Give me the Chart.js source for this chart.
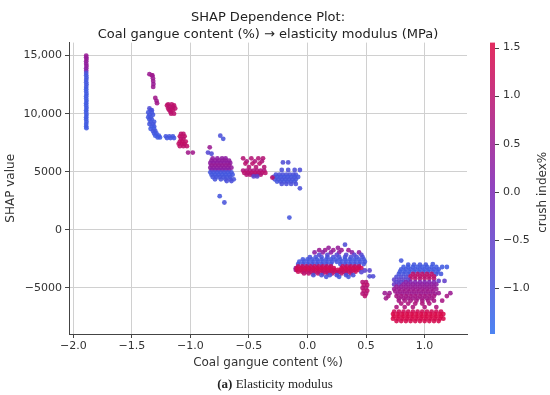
<!DOCTYPE html>
<html>
<head>
<meta charset="utf-8">
<script src="https://cdn.jsdelivr.net/npm/chart.js@4"></script>
<style>
  body { margin: 0; background: #fff; }
  #wrap { position: relative; width: 550px; height: 395px; }
  #caption { position: absolute; left: 0; top: 376px; width: 550px; text-align: center;
             font: 13px "Liberation Serif", "DejaVu Serif", serif; color: #222; }
</style>
</head>
<body>
<div id="wrap">
  <canvas id="shapChart" width="550" height="395"></canvas>
  <div id="caption"><b>(a)</b> Elasticity modulus</div>
</div>
<script>
// tick values / labels
var xTicks = [-2.0, -1.5, -1.0, -0.5, 0.0, 0.5, 1.0];
var yTicks = [-5000, 0, 5000, 10000, 15000];
var yTickLabels = ['\u22125000', '0', '5000', '10,000', '15,000'];
var crushTicks = [-1.0, -0.5, 0.0, 0.5, 1.0, 1.5];
var crushMin = -1.478, crushMax = 1.551;

// rows: [SHAP value, crush index, [coal gangue content values]]
var stripPts = [
  [15000, 0.45, [-1.89]], [14850, 0.45, [-1.89]], [14700, 0.4, [-1.888]], [14500, 0.4, [-1.89]],
  [14300, 0.35, [-1.89]], [14100, 0.35, [-1.888]], [13900, 0.3, [-1.89]], [13700, 0.2, [-1.89]],
  [13500, -0.9, [-1.89]], [13300, -1.0, [-1.89]], [13100, -1.0, [-1.888]], [12900, -1.0, [-1.89]],
  [12700, -1.05, [-1.89]], [12500, -1.05, [-1.888]], [12300, -1.05, [-1.89]], [12100, -1.1, [-1.89]],
  [11900, -1.1, [-1.89]], [11700, -1.1, [-1.888]], [11500, -1.1, [-1.89]], [11300, -1.1, [-1.89]],
  [11100, -1.1, [-1.888]], [10900, -1.1, [-1.89]], [10700, -1.1, [-1.89]], [10500, -1.1, [-1.888]],
  [10300, -1.1, [-1.89]], [10100, -1.1, [-1.89]], [9900, -1.1, [-1.888]], [9700, -1.1, [-1.89]],
  [9500, -1.1, [-1.89]], [9300, -1.1, [-1.888]], [9100, -1.1, [-1.89]], [8900, -1.1, [-1.89]],
  [8750, -1.1, [-1.888]]
];

var upperPts = [
  [13400, 0.5, [-1.35]], [13300, 0.55, [-1.33, -1.325]], [13050, 0.5, [-1.32]],
  [12800, 0.5, [-1.318]], [12550, 0.45, [-1.316]], [12300, 0.5, [-1.318]],
  [11350, 0.6, [-1.30]], [11100, 0.55, [-1.29]], [10900, 0.6, [-1.285]],
  [10800, 1.0, [-1.19, -1.16]], [10700, 1.05, [-1.20, -1.14]], [10600, 1.0, [-1.18, -1.15]],
  [10450, 1.0, [-1.19, -1.16, -1.13]], [10300, 1.05, [-1.18, -1.15]], [10150, 1.0, [-1.17]],
  [10000, 1.0, [-1.165, -1.14]],
  [10450, -0.8, [-1.35]], [10300, -0.9, [-1.34, -1.33]], [10100, -1.0, [-1.36, -1.33]],
  [9900, -1.0, [-1.35, -1.32]], [9700, -1.05, [-1.36, -1.34]], [9500, -1.0, [-1.35, -1.33]],
  [9300, -1.05, [-1.34, -1.31]], [9100, -1.0, [-1.35, -1.32]], [8900, -1.05, [-1.33, -1.31]],
  [8700, -1.1, [-1.34, -1.31]], [8500, -1.0, [-1.32, -1.30]], [8300, -1.05, [-1.31, -1.29]],
  [8100, -1.1, [-1.30, -1.27]], [7950, -1.1, [-1.28, -1.26]],
  [8050, -1.0, [-1.21, -1.18, -1.15]], [7900, -1.05, [-1.20, -1.17, -1.14]],
  [8250, 1.0, [-1.08, -1.06]], [8050, 1.05, [-1.09, -1.05]], [7850, 1.0, [-1.08, -1.06]],
  [7600, 1.1, [-1.09, -1.07, -1.04]], [7400, 1.1, [-1.10, -1.07, -1.05]],
  [7200, 1.05, [-1.09, -1.06, -1.03]], [6650, 0.6, [-1.02, -0.98]]
];

var midPts = [
  [8100, -0.9, [-0.745]], [7830, -0.95, [-0.72]], [7100, 0.5, [-0.835]],
  [6650, -0.7, [-0.85]], [6550, -0.8, [-0.82]],
  [6150, 0.3, [-0.81, -0.77, -0.73, -0.70]],
  [5950, 0.35, [-0.82, -0.79, -0.76, -0.73, -0.70, -0.67]],
  [5750, 0.3, [-0.83, -0.80, -0.77, -0.74, -0.71, -0.68, -0.66]],
  [5550, 0.45, [-0.82, -0.79, -0.76, -0.73, -0.70, -0.67]],
  [5350, 0.35, [-0.83, -0.80, -0.77, -0.74, -0.71, -0.68, -0.65]],
  [5150, 0.2, [-0.82, -0.79, -0.76, -0.73, -0.70, -0.67]],
  [4950, -1.0, [-0.83, -0.80, -0.77, -0.74, -0.71, -0.68, -0.65]],
  [4750, -1.05, [-0.82, -0.79, -0.76, -0.73, -0.70, -0.67, -0.64]],
  [4550, -1.0, [-0.81, -0.78, -0.75, -0.72, -0.69, -0.66]],
  [4350, -0.95, [-0.79, -0.74, -0.70, -0.66, -0.63]],
  [4200, -0.9, [-0.69, -0.65]],
  [2900, -1.0, [-0.75]], [2350, -0.95, [-0.71]],
  [6150, 0.9, [-0.55, -0.48, -0.42, -0.38]],
  [5900, 0.8, [-0.52, -0.45, -0.39]],
  [5700, 1.0, [-0.53, -0.47, -0.41]],
  [5400, 0.9, [-0.50, -0.44, -0.37]],
  [5100, 0.8, [-0.55, -0.52, -0.49, -0.46, -0.43, -0.40, -0.37]],
  [4900, 1.0, [-0.54, -0.51, -0.48, -0.45, -0.42, -0.39, -0.36]],
  [4750, 0.9, [-0.52, -0.49, -0.46, -0.43, -0.40]],
  [4600, -0.6, [-0.46, -0.43]],
  [5800, -0.8, [-0.21, -0.165]],
  [5150, -0.85, [-0.22, -0.165, -0.11, -0.065]],
  [4750, -0.9, [-0.27, -0.24, -0.21, -0.18, -0.15, -0.12, -0.10]],
  [4550, -1.0, [-0.29, -0.26, -0.23, -0.20, -0.17, -0.14, -0.11, -0.08]],
  [4350, -0.95, [-0.28, -0.25, -0.22, -0.19, -0.16, -0.13, -0.10]],
  [4150, -1.0, [-0.26, -0.23, -0.20, -0.17, -0.14, -0.11]],
  [3950, -0.9, [-0.22, -0.18, -0.14, -0.10]],
  [4500, 1.0, [-0.30]], [3570, -0.9, [-0.065]], [1050, -1.0, [-0.155]]
];

var lowPts = [
  [-1280, -0.8, [0.32]],
  [-1550, 0.4, [0.18, 0.26]],
  [-1750, 0.5, [0.10, 0.15, 0.22, 0.29, 0.35]],
  [-1950, 0.3, [0.06, 0.13, 0.20, 0.27, 0.38, 0.44]],
  [-2150, -0.7, [0.10, 0.17, 0.25, 0.33, 0.40, 0.46]],
  [-2350, -0.9, [0.02, 0.07, 0.12, 0.17, 0.22, 0.27, 0.32, 0.37, 0.42, 0.47]],
  [-2550, -1.0, [-0.04, 0.0, 0.04, 0.08, 0.12, 0.16, 0.20, 0.24, 0.28, 0.32, 0.36, 0.40, 0.44, 0.48]],
  [-2750, -1.05, [-0.07, -0.03, 0.01, 0.05, 0.09, 0.13, 0.17, 0.21, 0.25, 0.29, 0.33, 0.37, 0.41, 0.45, 0.49]],
  [-2950, -0.95, [-0.08, -0.04, 0.0, 0.04, 0.08, 0.12, 0.16, 0.20, 0.28, 0.32, 0.36, 0.40, 0.44, 0.48]],
  [-3300, 0.4, [-0.10]], [-3450, 0.5, [-0.10]],
  [-3150, 1.15, [-0.08, -0.045, -0.01, 0.025, 0.06, 0.095, 0.13, 0.165, 0.20, 0.30, 0.335, 0.37, 0.405, 0.44]],
  [-3300, 1.3, [-0.09, -0.055, -0.02, 0.015, 0.05, 0.085, 0.12, 0.155, 0.19, 0.225, 0.29, 0.325, 0.36, 0.395, 0.43, 0.46]],
  [-3450, 1.35, [-0.09, -0.055, -0.02, 0.015, 0.05, 0.085, 0.12, 0.155, 0.19, 0.225, 0.26, 0.295, 0.33, 0.365, 0.40, 0.435]],
  [-3600, 1.25, [-0.08, -0.045, -0.01, 0.025, 0.06, 0.095, 0.13, 0.165, 0.20, 0.235, 0.27, 0.305, 0.34, 0.375, 0.41]],
  [-3750, 1.0, [-0.03, 0.01, 0.05, 0.09, 0.13, 0.17, 0.21, 0.25, 0.29, 0.33, 0.37]],
  [-3900, -0.9, [0.05, 0.12, 0.19, 0.25, 0.33, 0.39]],
  [-4050, -1.0, [0.16, 0.27, 0.35]],
  [-3500, -0.6, [0.49, 0.53]], [-3650, -0.7, [0.46]], [-4000, -0.8, [0.53, 0.56]],
  [-4500, 0.9, [0.47, 0.50]], [-4750, 1.0, [0.48, 0.51]], [-5000, 0.9, [0.47, 0.50]],
  [-5250, 1.0, [0.48, 0.51]], [-5500, 0.9, [0.47, 0.50]], [-5700, 1.0, [0.49]]
];

var rightPts = [
  [-2650, -1.0, [0.80]], [-2950, -1.05, [1.07]],
  [-3000, -1.0, [0.86, 0.91, 0.96, 1.01]],
  [-3200, -1.1, [0.82, 0.86, 0.90, 0.94, 0.98, 1.02, 1.06, 1.10, 1.15, 1.19]],
  [-3400, -1.05, [0.80, 0.84, 0.88, 0.92, 0.96, 1.00, 1.04, 1.08, 1.12]],
  [-3600, -1.1, [0.79, 0.83, 0.87, 0.91, 0.95, 0.99, 1.03, 1.07, 1.11]],
  [-3800, -1.0, [0.78, 0.82, 0.86, 1.10, 1.14]],
  [-3800, 1.0, [0.90, 0.94, 0.98, 1.02, 1.06]],
  [-4000, 1.05, [0.88, 0.92, 0.96, 1.00, 1.04, 1.08]],
  [-4200, 0.95, [0.88, 0.92, 0.96, 1.00, 1.04, 1.08]],
  [-4050, -0.8, [0.76, 0.80, 0.84]],
  [-4300, -0.6, [0.74, 0.78, 0.82, 0.86]],
  [-4400, -0.5, [1.12, 1.17]],
  [-4500, -0.6, [0.76, 0.80]],
  [-4500, 0.1, [0.84, 0.88, 0.92, 0.96, 1.00, 1.04, 1.08]],
  [-4700, -0.4, [0.74, 0.78]],
  [-4700, 0.3, [0.82, 0.86, 0.90, 0.94, 0.98, 1.02, 1.06, 1.10]],
  [-4900, 0.4, [0.76, 0.80, 0.84, 0.88, 0.92, 0.96, 1.00, 1.04, 1.08]],
  [-5100, 0.5, [0.74, 0.78, 0.82, 0.86, 0.90, 0.94, 0.98, 1.02, 1.06, 1.10]],
  [-5300, 0.6, [0.75, 0.79, 0.83, 0.87, 0.91, 0.95, 0.99, 1.03, 1.07]],
  [-5450, 0.5, [0.66, 0.70, 1.12, 1.22]],
  [-5500, 0.5, [0.77, 0.81, 0.85, 0.89, 0.93, 0.97, 1.01, 1.05, 1.09]],
  [-5700, 0.7, [0.69, 0.76, 0.80, 0.84, 0.88, 0.92, 0.96, 1.00, 1.04, 1.08, 1.19]],
  [-5900, 0.6, [0.67, 0.78, 0.82, 0.86, 0.90, 0.94, 0.98, 1.02, 1.06]],
  [-6100, 0.7, [0.78, 0.83, 0.88, 0.93, 0.98, 1.03, 1.08, 1.15]],
  [-6350, 0.8, [0.80, 0.86, 0.92, 0.98, 1.04]],
  [-6650, 0.8, [0.76, 0.83, 0.90, 1.00, 1.10]],
  [-7050, 1.3, [0.74, 0.78, 0.82, 0.86, 0.90, 0.94, 0.98, 1.02, 1.06, 1.10, 1.14]],
  [-7250, 1.45, [0.73, 0.77, 0.81, 0.85, 0.89, 0.93, 0.97, 1.01, 1.05, 1.09, 1.13, 1.16]],
  [-7450, 1.5, [0.74, 0.78, 0.82, 0.86, 0.90, 0.94, 0.98, 1.02, 1.06, 1.10, 1.14]],
  [-7650, 1.45, [0.73, 0.77, 0.81, 0.85, 0.89, 0.93, 0.97, 1.01, 1.05, 1.09, 1.13, 1.16]],
  [-7850, 1.4, [0.76, 0.80, 0.84, 0.88, 0.92, 0.96, 1.00, 1.04, 1.08, 1.12]]
];

// blue -> purple -> red, like the shap colour map
var cmapStops = [[45, 110, 240], [125, 35, 180], [222, 8, 68]];

function crushColor(v, alpha) {
  var t = (v - crushMin) / (crushMax - crushMin);
  t = Math.max(0, Math.min(1, t));
  var a, b, f;
  if (t < 0.5) { a = cmapStops[0]; b = cmapStops[1]; f = t / 0.5; }
  else { a = cmapStops[1]; b = cmapStops[2]; f = (t - 0.5) / 0.5; }
  var rgb = [0, 1, 2].map(function(i) { return Math.round(a[i] + (b[i] - a[i]) * f); });
  return 'rgba(' + rgb.join(',') + ',' + alpha + ')';
}

function fmtTick(v) {
  return v < 0 ? '\u2212' + Math.abs(v).toFixed(1) : v.toFixed(1);
}

var points = [], colors = [];
[stripPts, upperPts, midPts, lowPts, rightPts].forEach(function(rows) {
  rows.forEach(function(r) {
    r[2].forEach(function(x) {
      points.push({x: x, y: r[0]});
      colors.push(crushColor(r[1], 0.88));
    });
  });
});

var textColor = '#333';
var tickFont = {family: 'DejaVu Sans', size: 11};

var colorbarPlugin = {
  id: 'colorbar',
  afterDraw: function(chart) {
    var s = chart.scales.cb, c = chart.ctx;
    var x0 = s.left + 23, w = 5;
    var g = c.createLinearGradient(0, s.bottom, 0, s.top);
    g.addColorStop(0, crushColor(crushMin, 0.85));
    g.addColorStop(0.5, crushColor((crushMin + crushMax) / 2, 0.85));
    g.addColorStop(1, crushColor(crushMax, 0.85));
    c.save();
    c.fillStyle = g;
    c.fillRect(x0, s.top, w, s.bottom - s.top);
    c.strokeStyle = '#444';
    c.lineWidth = 1;
    crushTicks.forEach(function(v) {
      var y = Math.round(s.getPixelForValue(v)) + 0.5;
      c.beginPath(); c.moveTo(x0 + w, y); c.lineTo(x0 + w + 4, y); c.stroke();
    });
    c.fillStyle = textColor;
    c.font = '12px "DejaVu Sans"';
    c.translate(543, (s.top + s.bottom) / 2 + 4);
    c.rotate(-Math.PI / 2);
    c.textAlign = 'center';
    c.textBaseline = 'middle';
    c.fillText('crush index%', 0, 0);
    c.restore();
  }
};

var ctx = document.getElementById('shapChart').getContext('2d');
var shapChart = new Chart(ctx, {
  type: 'scatter',
  data: {
    datasets: [{
      label: 'SHAP value',
      data: points,
      pointBackgroundColor: colors,
      pointBorderWidth: 0,
      pointRadius: 2.4
    }]
  },
  options: {
    responsive: false,
    animation: false,
    events: [],
    layout: {padding: {left: 0, right: 0, top: 0, bottom: 21}},
    plugins: {
      legend: {display: false},
      tooltip: {enabled: false},
      title: {
        display: true,
        fullSize: false,
        text: ['SHAP Dependence Plot:', 'Coal gangue content (%) \u2192 elasticity modulus (MPa)'],
        color: '#222',
        font: {family: 'DejaVu Sans', size: 13, weight: 'normal', lineHeight: 1.27},
        padding: {top: 2, bottom: 0}
      }
    },
    scales: {
      x: {
        type: 'linear',
        min: -2.037,
        max: 1.362,
        afterBuildTicks: function(s) { s.ticks = xTicks.map(function(v) { return {value: v}; }); },
        afterFit: function(s) { s.height = 40; },
        ticks: {color: textColor, font: tickFont, padding: 2, maxRotation: 0, autoSkip: false,
                callback: function(v) { return fmtTick(v); }},
        grid: {color: '#d0d0d0', tickColor: '#444', tickLength: 4},
        border: {color: '#444'},
        title: {display: true, text: 'Coal gangue content (%)', color: textColor,
                font: {family: 'DejaVu Sans', size: 12}, padding: {top: 0, bottom: 4}}
      },
      y: {
        type: 'linear',
        position: 'left',
        min: -8968,
        max: 16116,
        afterBuildTicks: function(s) { s.ticks = yTicks.map(function(v) { return {value: v}; }); },
        afterFit: function(s) { s.width = 69; },
        ticks: {color: textColor, font: tickFont, padding: 3,
                callback: function(v) { return yTickLabels[yTicks.indexOf(v)]; }},
        grid: {color: '#d0d0d0', tickColor: '#444', tickLength: 4},
        border: {color: '#444'},
        title: {display: true, text: 'SHAP value', color: textColor,
                font: {family: 'DejaVu Sans', size: 12}, padding: {top: 4, bottom: 0}}
      },
      cb: {
        type: 'linear',
        position: 'right',
        min: crushMin,
        max: crushMax,
        afterBuildTicks: function(s) { s.ticks = crushTicks.map(function(v) { return {value: v}; }); },
        afterFit: function(s) { s.width = 83; },
        ticks: {color: textColor, font: tickFont, padding: 36,
                callback: function(v) { return fmtTick(v); }},
        grid: {drawOnChartArea: false, drawTicks: false},
        border: {display: false}
      }
    }
  },
  plugins: [colorbarPlugin]
});
</script>
</body>
</html>
